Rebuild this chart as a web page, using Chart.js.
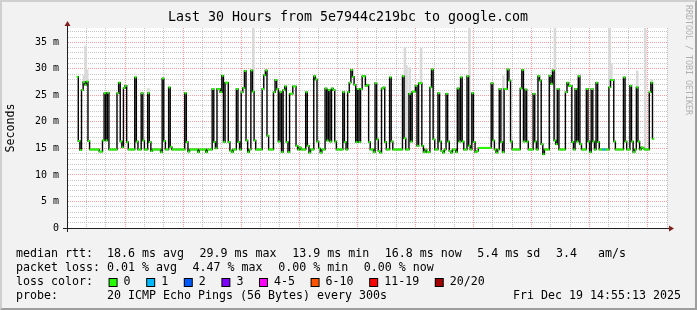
<!DOCTYPE html>
<html>
<head>
<meta charset="utf-8">
<script src="https://cdn.jsdelivr.net/npm/chart.js@4"></script>
<style>
  html, body { margin: 0; padding: 0; background: #f2f2f2; }
  #wrap { position: relative; width: 697px; height: 310px; }
  #frame { position: absolute; left: 0; top: 0; width: 697px; height: 310px; box-sizing: border-box;
           border: 2px solid; border-color: #cfcfcf #9e9e9e #9e9e9e #cfcfcf; pointer-events: none; }
</style>
</head>
<body>
<div id="wrap"><canvas id="chart" width="697" height="310"></canvas><div id="frame"></div></div>
<script>
// 5 minute steps, first one starts Thu 08:59
const START_HOUR = 8 + 59 / 60;
const STEP_HOURS = 5 / 60;
const SPAN_HOURS = 30;

// median rtt in ms, one value per step
const medianRtt = [
  28.5, 16.4, 14.7, 26.0, 27.5, 27.0, 27.6, 16.4, 14.8, 14.8,
  14.8, 14.8, 14.8, 14.8, 14.4, 14.4, 16.5, 25.4, 16.5, 25.5,
  14.8, 14.8, 14.8, 14.8, 14.8, 25.4, 27.4, 16.3, 15.2, 26.4,
  26.8, 16.2, 14.8, 14.8, 14.8, 14.8, 28.4, 16.3, 14.8, 14.8,
  25.4, 16.5, 14.8, 14.8, 25.4, 16.2, 14.5, 14.8, 14.8, 14.8,
  14.8, 14.8, 14.3, 28.2, 16.4, 14.8, 14.8, 26.5, 15.3, 14.8,
  14.8, 14.8, 14.8, 14.8, 14.8, 14.8, 14.8, 25.4, 16.2, 14.4,
  14.8, 14.8, 14.8, 14.8, 14.8, 14.3, 14.8, 14.8, 14.8, 14.8,
  14.3, 14.8, 14.8, 14.8, 26.2, 16.2, 15.0, 26.2, 26.2, 25.6,
  28.7, 16.2, 27.4, 27.4, 16.2, 14.6, 14.3, 14.8, 14.8, 26.2,
  16.2, 14.8, 25.6, 26.4, 29.6, 16.5, 14.3, 14.8, 29.7, 25.7,
  16.5, 14.8, 14.8, 14.8, 14.8, 26.2, 28.8, 29.7, 17.4, 14.8,
  14.8, 14.8, 25.6, 27.9, 26.2, 16.3, 25.6, 14.3, 26.0, 26.7,
  16.2, 14.3, 25.3, 25.3, 26.7, 26.7, 15.5, 14.8, 15.2, 14.8,
  14.8, 14.8, 25.6, 15.5, 14.2, 14.8, 14.8, 28.6, 28.0, 16.3,
  15.0, 14.2, 14.8, 14.8, 26.3, 16.5, 26.0, 16.3, 26.3, 26.0,
  16.3, 14.8, 14.8, 14.8, 14.8, 25.6, 16.2, 14.8, 25.6, 27.4,
  29.8, 28.5, 27.0, 16.2, 26.2, 16.2, 26.2, 28.6, 28.6, 26.8,
  27.0, 16.2, 14.8, 14.8, 14.3, 27.3, 16.7, 14.5, 14.2, 26.3,
  26.5, 16.2, 14.8, 14.8, 28.4, 16.3, 14.8, 14.8, 14.8, 14.8,
  14.8, 14.8, 28.6, 16.9, 14.8, 14.8, 25.3, 16.3, 25.7, 25.7,
  26.8, 15.5, 27.3, 27.3, 15.5, 14.3, 14.8, 14.3, 14.3, 26.5,
  29.9, 16.7, 14.8, 14.8, 25.4, 16.3, 14.5, 14.2, 14.8, 25.3,
  16.3, 14.5, 14.2, 14.8, 14.8, 14.3, 26.3, 16.3, 28.4, 16.3,
  14.8, 14.8, 28.6, 15.5, 14.8, 25.4, 16.2, 14.3, 14.5, 15.1,
  15.1, 15.1, 15.1, 15.1, 15.1, 15.1, 15.1, 27.3, 16.5, 14.8,
  14.2, 14.8, 26.2, 16.2, 14.3, 26.2, 26.2, 29.9, 27.8, 16.3,
  14.8, 14.8, 14.8, 14.8, 14.8, 26.3, 29.8, 16.3, 26.1, 16.3,
  14.8, 14.8, 14.8, 25.3, 16.3, 14.8, 28.6, 27.8, 15.8, 13.9,
  14.8, 14.8, 14.8, 28.7, 27.2, 29.7, 16.5, 15.8, 26.2, 14.8,
  14.8, 14.8, 14.8, 25.6, 27.4, 26.8, 26.8, 16.2, 14.8, 26.2,
  16.3, 28.6, 15.8, 14.8, 14.8, 14.8, 26.2, 16.3, 14.3, 26.2,
  16.3, 14.8, 27.4, 16.2, 14.8, 14.8, 14.8, 14.8, 14.8, 14.8,
  26.5, 27.9, 27.9, 16.3, 14.8, 14.8, 14.8, 14.8, 14.8, 28.4,
  16.3, 14.8, 14.8, 26.8, 16.3, 14.3, 14.8, 26.5, 16.3, 14.8,
  15.2, 15.0, 14.8, 14.8, 14.8, 25.6, 27.4, 16.8
];

// steps where 1 of 20 pings was lost
const lossSteps = [326, 327];

// visible smoke above the median (max ping of the step)
const smokeSteps = [4, 5, 6, 44, 109, 203, 204, 206, 213, 243, 264, 296, 330, 331, 347, 352, 356];
const smokeTops = [28.8, 34.3, 29.8, 26.3, 37.7, 34.0, 30.6, 30.2, 33.9, 37.7, 28.7, 37.7, 37.7, 31.0, 29.6, 37.7, 28.0];

const labelHours = [12, 18, 24, 30, 36];
const labelTexts = ['Thu 12:00', 'Thu 18:00', 'Fri 00:00', 'Fri 06:00', 'Fri 12:00'];

const lossNames = ['0', '1', '2', '3', '4-5', '6-10', '11-19', '20/20'];
const lossColors = ['#26ff00', '#00b8ff', '#0059ff', '#7e00ff', '#ff00ff', '#ff5500', '#ff0000', '#a00000'];

const titleText = 'Last 30 Hours from 5e7944c219bc to google.com';
const rttLegend = ['median rtt:  18.6 ms avg', '29.9 ms max', '13.9 ms min', '16.8 ms now', '5.4 ms sd', '3.4   am/s'];
const lossLegend = ['packet loss: 0.01 % avg', '4.47 % max', '0.00 % min', '0.00 % now'];
const probeText = 'probe:       20 ICMP Echo Pings (56 Bytes) every 300s';
const dateText = 'Fri Dec 19 14:55:13 2025';

const FONT = '"DejaVu Sans Mono", monospace';
const GRID = 'rgba(143,143,143,0.5)';
const MGRID = 'rgba(222,79,79,0.55)';

const xOf = i => START_HOUR + (i + 0.5) * STEP_HOURS;
const points = medianRtt.map((v, i) => ({ x: xOf(i), y: v }));

const rrdExtras = {
  id: 'rrdExtras',
  beforeDraw(chart) {
    const { ctx, chartArea: a } = chart;
    ctx.save();
    ctx.fillStyle = '#fff';
    ctx.fillRect(a.left, a.top, a.right - a.left, a.bottom - a.top);
    ctx.restore();
  },
  afterDraw(chart) {
    const { ctx, chartArea: a } = chart;
    ctx.save();
    // axis extensions and arrows
    ctx.strokeStyle = '#1f1f1f';
    ctx.lineWidth = 1;
    ctx.beginPath();
    ctx.moveTo(a.left + 0.5, a.bottom + 4);
    ctx.lineTo(a.left + 0.5, a.top - 4);
    ctx.moveTo(a.left - 4, a.bottom + 0.5);
    ctx.lineTo(a.right + 4, a.bottom + 0.5);
    ctx.stroke();
    ctx.fillStyle = '#801f1f';
    ctx.beginPath();
    ctx.moveTo(a.right + 2, a.bottom - 2.5);
    ctx.lineTo(a.right + 2, a.bottom + 3.5);
    ctx.lineTo(a.right + 7, a.bottom + 0.5);
    ctx.closePath();
    ctx.fill();
    ctx.beginPath();
    ctx.moveTo(a.left - 2.5, a.top - 2);
    ctx.lineTo(a.left + 3.5, a.top - 2);
    ctx.lineTo(a.left + 0.5, a.top - 7);
    ctx.closePath();
    ctx.fill();

    // title
    ctx.fillStyle = '#000';
    ctx.font = '13.3px ' + FONT;
    ctx.textAlign = 'center';
    ctx.textBaseline = 'middle';
    ctx.fillText(titleText, 348, 18);
    ctx.textAlign = 'left';

    // watermark
    ctx.fillStyle = '#b0b0b0';
    ctx.font = '8.3px ' + FONT;
    ctx.translate(688, 5);
    ctx.rotate(Math.PI / 2);
    ctx.fillText('RRDTOOL / TOBI OETIKER', 0, 0);
    ctx.setTransform(1, 0, 0, 1, 0, 0);

    // legend
    const gap = 15.6;
    ctx.font = '11.63px ' + FONT;
    ctx.fillStyle = '#000';
    let x = 16;
    rttLegend.forEach(t => { ctx.fillText(t, x, 254); x += ctx.measureText(t).width + gap; });
    x = 16;
    lossLegend.forEach(t => { ctx.fillText(t, x, 268); x += ctx.measureText(t).width + gap; });
    x = 16;
    ctx.fillText('loss color:', x, 282);
    x += ctx.measureText('loss color:').width + gap;
    lossNames.forEach((n, k) => {
      ctx.fillStyle = '#000';
      ctx.fillRect(x, 278, 9, 9);
      ctx.fillStyle = lossColors[k];
      ctx.fillRect(x + 1, 279, 7, 7);
      ctx.fillStyle = '#000';
      ctx.fillText(n, x + 15, 282);
      x += 15 + ctx.measureText(n).width + gap;
    });
    ctx.fillText(probeText, 16, 296);
    ctx.textAlign = 'right';
    ctx.fillText(dateText, 681, 296);
    ctx.restore();
  }
};

const tickVal = c => (c && c.tick) ? c.tick.value : NaN;

new Chart(document.getElementById('chart'), {
  data: {
    datasets: [
      {
        type: 'line',
        label: 'median (loss color)',
        data: points,
        showLine: false,
        pointStyle: 'line',
        pointRadius: 1,
        pointBorderWidth: 2,
        pointBorderColor: c => lossSteps.includes(c.dataIndex) ? lossColors[1] : lossColors[0],
        order: 0
      },
      {
        type: 'line',
        label: 'median',
        data: points,
        stepped: 'middle',
        borderColor: '#000',
        borderWidth: 1.4,
        pointRadius: 0,
        order: 1
      },
      {
        type: 'bar',
        label: 'smoke',
        data: smokeSteps.map((s, k) => ({ x: xOf(s), y: [medianRtt[s], smokeTops[k]] })),
        backgroundColor: '#d9d9d9',
        barThickness: 2,
        order: 2
      }
    ]
  },
  options: {
    responsive: false,
    animation: false,
    events: [],
    layout: { padding: { left: 0, right: 30, top: 28, bottom: 62 } },
    plugins: {
      legend: { display: false },
      tooltip: { enabled: false },
      title: { display: false }
    },
    scales: {
      x: {
        type: 'linear',
        min: START_HOUR,
        max: START_HOUR + SPAN_HOURS,
        afterFit: s => { s.height = 20; },
        ticks: {
          stepSize: 1,
          includeBounds: false,
          autoSkip: false,
          maxRotation: 0,
          padding: 3,
          color: '#000',
          font: { family: FONT, size: 9.97 },
          callback: v => {
            const k = labelHours.indexOf(Math.round(v));
            return k >= 0 && Math.abs(v - Math.round(v)) < 1e-6 ? labelTexts[k] : '';
          }
        },
        grid: {
          drawTicks: false,
          color: c => Math.round(tickVal(c)) % 3 === 0 ? MGRID : GRID
        },
        border: { color: '#1f1f1f', width: 1, dash: [1, 1] }
      },
      y: {
        min: 0,
        max: 37.7,
        afterFit: s => { s.width = 67; },
        ticks: {
          stepSize: 1,
          includeBounds: false,
          autoSkip: false,
          padding: 8,
          color: '#000',
          font: { family: FONT, size: 9.97 },
          callback: v => (Number.isInteger(v) && v % 5 === 0) ? (v === 0 ? '0' : v + ' m') : ''
        },
        grid: {
          drawTicks: false,
          color: c => tickVal(c) === 0 ? 'rgba(0,0,0,0)' : (tickVal(c) % 5 === 0 ? MGRID : GRID)
        },
        border: { color: '#1f1f1f', width: 1, dash: [1, 1] },
        title: {
          display: true,
          text: 'Seconds',
          color: '#000',
          font: { family: FONT, size: 11.63 },
          padding: { top: 4, bottom: 0 }
        }
      }
    }
  },
  plugins: [rrdExtras]
});
</script>
</body>
</html>
